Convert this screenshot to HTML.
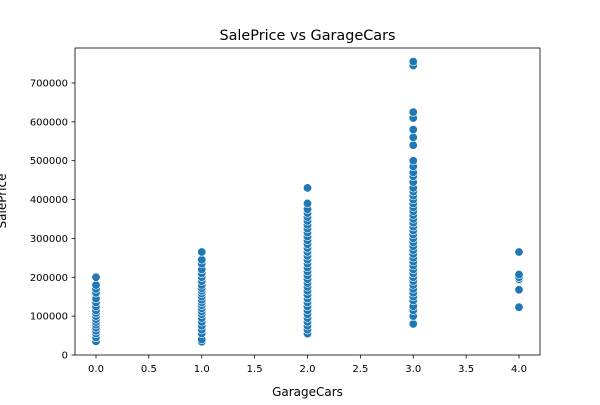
<!DOCTYPE html>
<html><head><meta charset="utf-8"><style>
body{margin:0;background:#fff;font-family:"Liberation Sans","DejaVu Sans",sans-serif}
svg text{font-family:"DejaVu Sans","Liberation Sans",sans-serif}
</style></head><body>
<svg id="chart" width="600" height="400">
<rect x="0" y="0" width="600" height="400" fill="#fff"/>
<text x="307.5" y="40" text-anchor="middle" font-size="14.4">SalePrice vs GarageCars</text>
<g id="marks"></g>
<rect x="75" y="48" width="465" height="307" fill="none" stroke="#000" stroke-width="0.8"/>
<g id="xt"></g>
<g id="yt"></g>
<text x="307.5" y="396" text-anchor="middle" font-size="12">GarageCars</text>
<text transform="translate(6,201) rotate(-90)" text-anchor="middle" font-size="12">SalePrice</text>
</svg>
<script>
const categories=[0,1,2,3,4];
const cat0=[35,45,55,62,70,78,85,92,100,108,115,125,135,145,160,170,180,200];
const cat1=[34,40,55,65,75,85,95,105,112,120,128,135,142,150,158,165,172,180,190,200,210,220,235,245,265];
const cat2=[55,65,75,85,95,105,115,125,135,145,155,165,175,185,195,205,215,225,235,245,255,265,275,285,295,305,315,325,335,345,355,365,375,390,430];
const cat3=[80,100,115,125,140,150,160,170,180,190,200,210,220,230,240,250,260,270,280,290,300,310,320,330,340,350,360,370,380,390,400,410,420,430,445,460,470,485,500,540,560,580,610,625,745,755];
const cat4=[123,168,195,200,207,265];
const xTicks=["0.0","0.5","1.0","1.5","2.0","2.5","3.0","3.5","4.0"];
const xTickVals=[0,0.5,1,1.5,2,2.5,3,3.5,4];
const yTickVals=[0,100000,200000,300000,400000,500000,600000,700000];
const ns="http://www.w3.org/2000/svg";
function xs(v){return 96+v*105.75;}
function ys(v){return 355-v*272/700000;}
const series=[cat0,cat1,cat2,cat3,cat4];
const g=document.getElementById('marks');
series.forEach((arr,i)=>{arr.forEach(v=>{
 const c=document.createElementNS(ns,'circle');
 c.setAttribute('cx',xs(categories[i]));c.setAttribute('cy',ys(v*1000));c.setAttribute('r',4.2);
 c.setAttribute('fill','#1f77b4');c.setAttribute('stroke','#fff');c.setAttribute('stroke-width','0.6');
 
 
 g.appendChild(c);});});
const xt=document.getElementById('xt');
xTickVals.forEach((v,i)=>{
 const l=document.createElementNS(ns,'line');l.setAttribute('x1',xs(v));l.setAttribute('x2',xs(v));l.setAttribute('y1',355);l.setAttribute('y2',358.5);l.setAttribute('stroke','#000');l.setAttribute('stroke-width','0.8');
 
 
 xt.appendChild(l);
 const t=document.createElementNS(ns,'text');t.setAttribute('x',xs(v));t.setAttribute('y',372);t.setAttribute('text-anchor','middle');t.setAttribute('font-size','10');t.textContent=xTicks[i];
 
 
 xt.appendChild(t);});
const yt=document.getElementById('yt');
yTickVals.forEach(v=>{
 const l=document.createElementNS(ns,'line');l.setAttribute('x1',71.5);l.setAttribute('x2',75);l.setAttribute('y1',ys(v));l.setAttribute('y2',ys(v));l.setAttribute('stroke','#000');l.setAttribute('stroke-width','0.8');
 
 
 yt.appendChild(l);
 const t=document.createElementNS(ns,'text');t.setAttribute('x',68);t.setAttribute('y',ys(v)+3.5);t.setAttribute('text-anchor','end');t.setAttribute('font-size','10');t.textContent=String(v);
 
 
 yt.appendChild(t);});
</script>
</body></html>
